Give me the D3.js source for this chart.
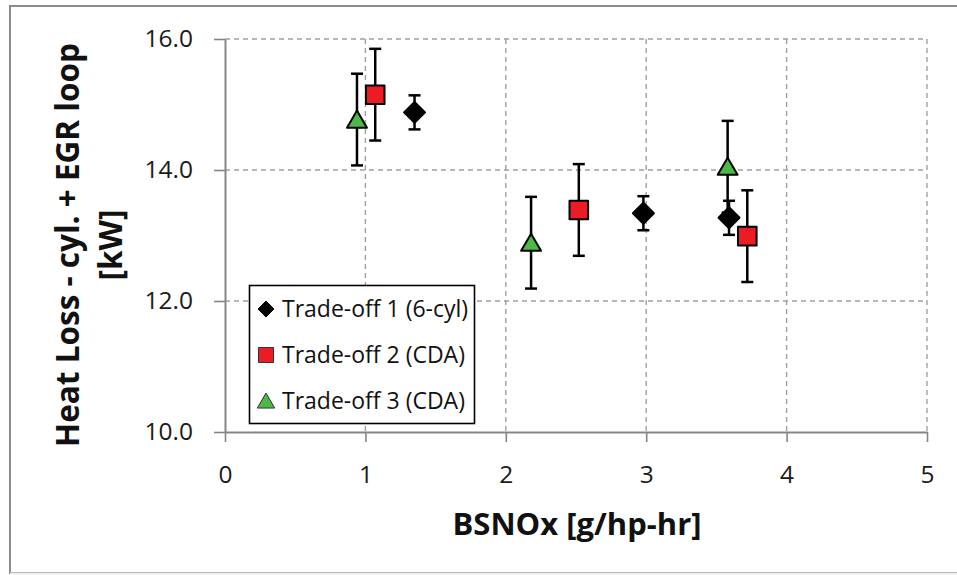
<!DOCTYPE html>
<html>
<head>
<meta charset="utf-8">
<script src="https://cdn.jsdelivr.net/npm/d3@7"></script>
<style>
  html, body { margin: 0; padding: 0; background: #fff; }
  svg { display: block; font-family: "Open Sans", "Noto Sans", sans-serif; }
</style>
</head>
<body>
<svg id="chart" width="957" height="575"></svg>
<script>
// Heat loss (cylinder + EGR loop) versus BSNOx for three trade-off sweeps
const seriesNames = ["Trade-off 1 (6-cyl)", "Trade-off 2 (CDA)", "Trade-off 3 (CDA)"];

const tradeoff1X = [1.35, 2.98, 3.59];
const tradeoff1Y = [14.88, 13.34, 13.27];
const tradeoff1Err = [0.26, 0.26, 0.26];

const tradeoff2X = [1.07, 2.52, 3.72];
const tradeoff2Y = [15.15, 13.39, 12.99];
const tradeoff2Err = [0.70, 0.70, 0.70];

const tradeoff3X = [0.94, 2.18, 3.58];
const tradeoff3Y = [14.77, 12.89, 14.05];
const tradeoff3Err = [0.70, 0.70, 0.70];

const xTicks = [0, 1, 2, 3, 4, 5];
const yTicks = [10, 12, 14, 16];

const xTitle = "BSNOx [g/hp-hr]";
const yTitleLines = ["Heat Loss - cyl. + EGR loop", "[kW]"];

const svg = d3.select("#chart");

// outer chart frame
svg.append("rect")
  .attr("x", 10).attr("y", 6).attr("width", 960).attr("height", 567)
  .attr("fill", "#fff").attr("stroke", "#8c8c8c").attr("stroke-width", 2);
svg.append("line")
  .attr("x1", 10).attr("x2", 957).attr("y1", 573.5).attr("y2", 573.5)
  .attr("stroke", "#ececec").attr("stroke-width", 2);

const x = d3.scaleLinear().domain([0, 5]).range([225, 927]);
const y = d3.scaleLinear().domain([10, 16]).range([432, 39]);

// dashed gridlines
const grid = svg.append("g")
  .attr("stroke", "#a0a0a0").attr("stroke-width", 1.4).attr("stroke-dasharray", "5,4");
grid.selectAll("line.v").data(xTicks.filter(d => d > 0)).join("line")
  .attr("x1", d => x(d)).attr("x2", d => x(d))
  .attr("y1", y(16)).attr("y2", y(10));
grid.selectAll("line.h").data(yTicks.filter(d => d > 10)).join("line")
  .attr("x1", x(0)).attr("x2", x(5))
  .attr("y1", d => y(d)).attr("y2", d => y(d));

// axes
const axisColor = "#868686";
const xAxis = svg.append("g").attr("transform", `translate(0,${y(10)})`)
  .call(d3.axisBottom(x).tickValues(xTicks).tickFormat(d3.format("d"))
    .tickSize(10).tickSizeOuter(0).tickPadding(26));
const yAxis = svg.append("g").attr("transform", `translate(${x(0)},0)`)
  .call(d3.axisLeft(y).tickValues(yTicks).tickFormat(d3.format(".1f"))
    .tickSize(11).tickSizeOuter(0).tickPadding(21));
[xAxis, yAxis].forEach(g => {
  g.select(".domain").attr("stroke", axisColor).attr("stroke-width", 2);
  g.selectAll(".tick line").attr("stroke", axisColor).attr("stroke-width", 1.6);
  g.selectAll(".tick text")
    .attr("fill", "#1a1a1a")
    .style("font-family", "'Open Sans', sans-serif")
    .style("font-size", "24.5px");
});
xAxis.selectAll(".tick text").attr("dy", "0.62em");

// axis titles
svg.append("text")
  .attr("x", (x(0) + x(5)) / 2 + 1).attr("y", 535)
  .attr("text-anchor", "middle")
  .style("font-size", "31px").style("font-weight", "700")
  .attr("fill", "#111")
  .text(xTitle);

const yT = svg.append("text")
  .attr("transform", "translate(0,245) rotate(-90)")
  .attr("text-anchor", "middle")
  .style("font-size", "31.5px").style("font-weight", "700")
  .attr("fill", "#111");
yT.append("tspan").attr("x", 0).attr("y", 79).text(yTitleLines[0]);
yT.append("tspan").attr("x", 0).attr("y", 122).text(yTitleLines[1]);

// marker shapes (path strings centred on the origin)
const shapes = {
  diamond: r => `M0,${-r}L${r},0L0,${r}L${-r},0Z`,
  square: r => `M${-r},${-r}H${r}V${r}H${-r}Z`,
  triangle: r => `M0,${-r * 0.95}L${r * 1.05},${r * 0.85}L${-r * 1.05},${r * 0.85}Z`
};

const series = [
  { name: seriesNames[0], xs: tradeoff1X, ys: tradeoff1Y, err: tradeoff1Err,
    shape: "diamond", size: 10.5, fill: "#000000", stroke: "#000000", legendSize: 8 },
  { name: seriesNames[1], xs: tradeoff2X, ys: tradeoff2Y, err: tradeoff2Err,
    shape: "square", size: 9.3, fill: "#ec1c24", stroke: "#000000", legendSize: 7.5 },
  { name: seriesNames[2], xs: tradeoff3X, ys: tradeoff3Y, err: tradeoff3Err,
    shape: "triangle", size: 9.5, fill: "#4cb848", stroke: "#000000", legendSize: 8.3 }
];

series.forEach(s => {
  const pts = s.xs.map((xv, i) => ({ x: xv, y: s.ys[i], e: s.err[i] }));
  const g = svg.append("g");
  const eb = g.selectAll("g.err").data(pts).join("g")
    .attr("stroke", "#000").attr("stroke-width", 2.5);
  eb.append("line")
    .attr("x1", d => x(d.x)).attr("x2", d => x(d.x))
    .attr("y1", d => y(d.y + d.e)).attr("y2", d => y(d.y - d.e));
  eb.append("line")
    .attr("x1", d => x(d.x) - 6).attr("x2", d => x(d.x) + 6)
    .attr("y1", d => y(d.y + d.e)).attr("y2", d => y(d.y + d.e));
  eb.append("line")
    .attr("x1", d => x(d.x) - 6).attr("x2", d => x(d.x) + 6)
    .attr("y1", d => y(d.y - d.e)).attr("y2", d => y(d.y - d.e));
  g.selectAll("path").data(pts).join("path")
    .attr("transform", d => `translate(${x(d.x)},${y(d.y)})`)
    .attr("d", shapes[s.shape](s.size))
    .attr("fill", s.fill).attr("stroke", s.stroke).attr("stroke-width", 2)
    .attr("stroke-linejoin", "round");
});

// legend
const legend = svg.append("g");
legend.append("rect")
  .attr("x", 249.5).attr("y", 285.5).attr("width", 225).attr("height", 138)
  .attr("fill", "#fff").attr("stroke", "#000").attr("stroke-width", 1.6);
const rows = legend.selectAll("g.row").data(series).join("g")
  .attr("transform", (d, i) => `translate(266,${309 + i * 46})`);
rows.append("path")
  .attr("d", d => shapes[d.shape](d.legendSize))
  .attr("fill", d => d.fill)
  .attr("stroke", d => d.shape === "diamond" ? "#000" : "#333")
  .attr("stroke-width", 1);
rows.append("text")
  .attr("x", 16).attr("y", 0).attr("dy", "0.35em")
  .style("font-size", "23px").attr("fill", "#111")
  .text(d => d.name);
</script>
</body>
</html>
